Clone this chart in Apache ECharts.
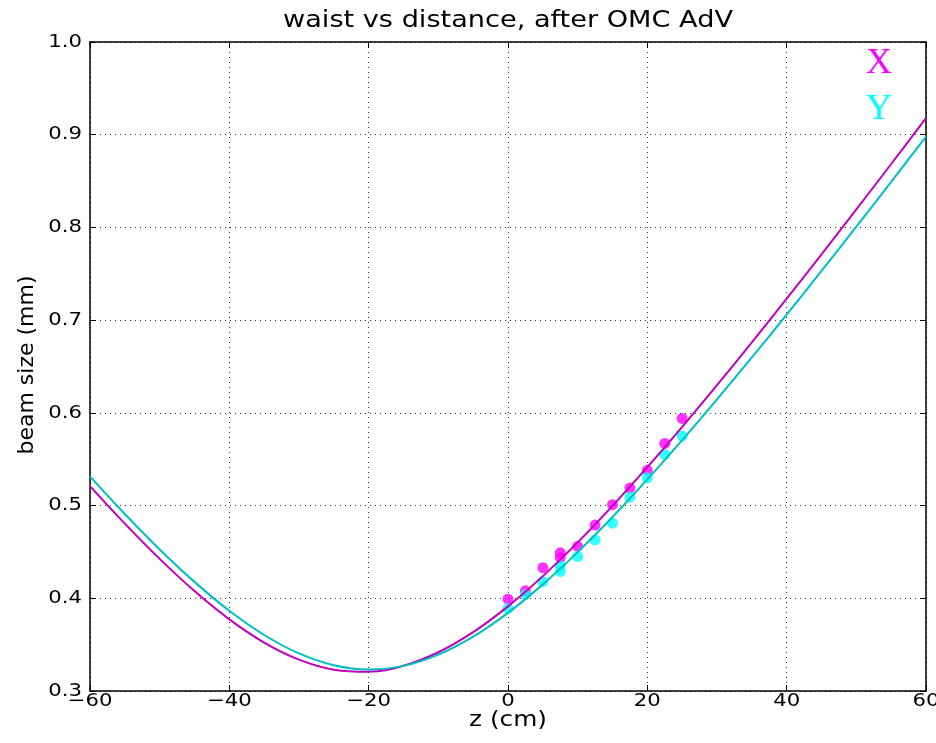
<!DOCTYPE html>
<html>
<head>
<meta charset="utf-8">
<script src="https://cdn.jsdelivr.net/npm/echarts@6/dist/echarts.min.js"></script>
<style>
html,body{margin:0;padding:0;background:#fff;overflow:hidden;}
#c{width:936px;height:743px;}
</style>
</head>
<body>
<div id="c"></div>
<script>
// fitted curves
var zCurve = [-60,-55,-50,-45,-40,-35,-30,-25,-20,-15,-10,-5,0,5,10,15,20,25,30,35,40,45,50,55,60];
var xFit = [0.521,0.4805,0.4425,0.4078,0.3773,0.3523,0.3338,0.3230,0.3208,0.3272,0.3418,0.3635,0.3913,0.4239,0.4603,0.4997,0.5414,0.5849,0.6299,0.6760,0.7231,0.7709,0.8194,0.8684,0.918];
var yFit = [0.5315,0.4909,0.4527,0.4177,0.3865,0.3604,0.3405,0.3278,0.3232,0.3271,0.3392,0.3586,0.3843,0.4150,0.4498,0.4877,0.5282,0.5706,0.6146,0.6598,0.7060,0.7531,0.8008,0.8491,0.898];
// measured points
var zPtsX = [0,2.5,5,7.5,7.5,10,12.5,15,17.5,20,22.5,25];
var xPts  = [0.399,0.408,0.433,0.444,0.449,0.456,0.479,0.501,0.519,0.538,0.567,0.594];
var zPtsY = [0,2.5,5,7.5,7.5,10,12.5,15,17.5,20,22.5,25];
var yPts  = [0.389,0.404,0.418,0.435,0.429,0.445,0.463,0.481,0.509,0.530,0.555,0.575];
var xTicks = [-60,-40,-20,0,20,40,60];
var yTicks = [0.3,0.4,0.5,0.6,0.7,0.8,0.9,1.0];
var legendNames = ['X','Y'];
var titleText = 'waist vs distance, after OMC AdV';
var xName = 'z (cm)';
var yName = 'beam size (mm)';

function pairs(a,b){return a.map(function(v,i){return [v,b[i]];});}

var FONT = '"DejaVu Sans"';
var SX = 1.18;
var chart = echarts.init(document.getElementById('c'), null, {renderer:'canvas'});
var gridLine = {show:true, lineStyle:{color:'#000', type:[1,4], width:1, opacity:0.8}};
var axLine = {show:true, onZero:false, lineStyle:{color:'#000', width:1.5}};
var tick = {show:true, inside:true, length:6, lineStyle:{color:'#000', width:1}};
chart.setOption({
  animation:false,
  backgroundColor:'#fff',
  grid:{left:90, right:10, top:42, bottom:52, containLabel:false},
  xAxis:[{type:'value', min:-60, max:60, interval:20, position:'bottom',
    axisLine:axLine, axisTick:tick, splitLine:gridLine, axisLabel:{show:false}},
   {type:'value', min:-60, max:60, interval:20, position:'top',
    axisLine:axLine, axisTick:tick, splitLine:{show:false}, axisLabel:{show:false}}],
  yAxis:[{type:'value', min:0.3, max:1.0, interval:0.1, position:'left',
    axisLine:axLine, axisTick:tick, splitLine:gridLine, axisLabel:{show:false}},
   {type:'value', min:0.3, max:1.0, interval:0.1, position:'right',
    axisLine:axLine, axisTick:tick, splitLine:{show:false}, axisLabel:{show:false}}],
  series:[
    {name:'X pts', type:'scatter', data:pairs(zPtsX,xPts), symbolSize:11,
      itemStyle:{color:'#ff00ff'}, z:2},
    {name:'Y pts', type:'scatter', data:pairs(zPtsY,yPts), symbolSize:11,
      itemStyle:{color:'#00ffff'}, z:2},
    {name:'X fit', type:'line', data:pairs(zCurve,xFit), smooth:0.4, showSymbol:false,
      lineStyle:{color:'#bf00bf', width:2}, z:3},
    {name:'Y fit', type:'line', data:pairs(zCurve,yFit), smooth:0.4, showSymbol:false,
      lineStyle:{color:'#00bfbf', width:2}, z:3}
  ]
});

var g = [];
function txt(text, x, y, opts){
  var o = {type:'text', x:x, y:y, scaleX:opts.sx==null?SX:opts.sx, rotation:opts.rot||0, z:10,
    style:{text:text, x:0, y:0, align:opts.align||'center', verticalAlign:opts.va||'middle',
      fill:opts.fill||'#000', font:opts.font}};
  g.push(o);
}
xTicks.forEach(function(v){
  var px = chart.convertToPixel({xAxisIndex:0}, v);
  txt(String(v).replace('-','\u2212'), px, 692, {va:'top', font:'18px '+FONT});
});
yTicks.forEach(function(v){
  var py = chart.convertToPixel({yAxisIndex:0}, v);
  txt(v.toFixed(1), 82, py, {align:'right', font:'18px '+FONT});
});
txt(titleText, 508, 21, {font:'23px '+FONT});
txt(xName, 508, 721, {font:'21px '+FONT});
txt(yName, 27, 365, {sx:1, rot:Math.PI/2, font:'22px '+FONT});
txt(legendNames[0], 879, 64, {sx:1, font:'36px "Liberation Serif"', fill:'#ff00ff'});
txt(legendNames[1], 879, 110, {sx:1, font:'36px "Liberation Serif"', fill:'#00ffff'});
chart.setOption({graphic:g});
</script>
</body>
</html>
